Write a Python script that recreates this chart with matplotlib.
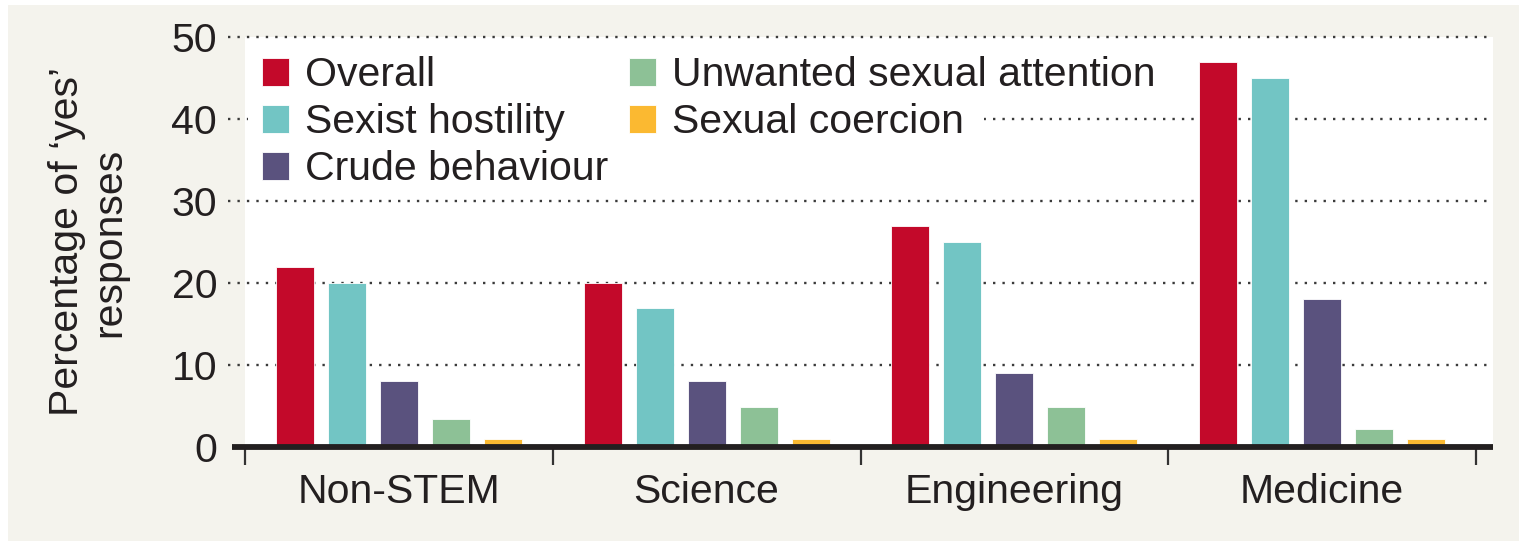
import matplotlib
matplotlib.use("Agg")
import matplotlib.pyplot as plt
import matplotlib.patches as mpatches
import numpy as np

categories = ["Non-STEM", "Science", "Engineering", "Medicine"]
series_names = ["Overall", "Sexist hostility", "Crude behaviour",
                "Unwanted sexual attention", "Sexual coercion"]
overall = [22, 20, 27, 47]
sexist_hostility = [20, 17, 25, 45]
crude_behaviour = [8, 8, 9, 18]
unwanted_attention = [3.4, 4.9, 4.9, 2.2]
sexual_coercion = [1, 1, 1, 1]
yticks = [0, 10, 20, 30, 40, 50]

series = [overall, sexist_hostility, crude_behaviour, unwanted_attention, sexual_coercion]
colors = ["#c3092a", "#72c5c4", "#5a527e", "#8dc196", "#fbb931"]

plt.rcParams['font.family'] = ['Liberation Sans', 'DejaVu Sans']
FS = 29.5
W, H = 1519, 541
fig = plt.figure(figsize=(W / 100, H / 100), dpi=100, facecolor="white")
bg = mpatches.Rectangle((8 / W, 0), 1 - 8 / W, 1 - 5 / H, transform=fig.transFigure,
                        facecolor="#f4f3ed", edgecolor="none", zorder=-10)
fig.patches.append(bg)

ax = fig.add_axes([245 / W, 94 / H, (1493 - 245) / W, (447 - 37) / H])
ax.set_facecolor("white")

x = np.arange(len(categories))
step = 0.169
width = 0.1235
for k, (vals, col, name) in enumerate(zip(series, colors, series_names)):
    ax.bar(x + (k - 2) * step, vals, width=width, color=col, label=name,
           zorder=2, edgecolor="white", linewidth=0.6)

ax.set_ylim(0, 50)
ax.set_xlim(-0.5, 3.5 + 17 / 307.75)

# dotted gridlines extending slightly left of the axes
for yv in yticks[1:]:
    ax.plot([-0.0136, 1], [yv, yv], transform=ax.get_yaxis_transform(),
            color="#3a3a3a", lw=1.7, linestyle=(0, (1, 3.0)),
            clip_on=False, zorder=1, dash_capstyle="butt")
# zero line
ax.plot([-0.0104, 1], [0, 0], transform=ax.get_yaxis_transform(),
        color="#231f20", lw=4.2, clip_on=False, zorder=3, solid_capstyle="butt")

for s in ax.spines.values():
    s.set_visible(False)

ax.set_yticks(yticks)
ax.set_yticklabels([str(v) for v in yticks])
ax.tick_params(axis="y", length=0, pad=20, labelsize=FS, labelcolor="#231f20")

ax.set_xticks(np.arange(-0.5, 4.0, 1.0))
ax.set_xticklabels([])
ax.tick_params(axis="x", which="major", length=13, width=1.6, color="#333333",
               direction="out")
ax.set_xticks(x, minor=True)
ax.set_xticklabels(categories, minor=True)
ax.tick_params(axis="x", which="minor", length=0, pad=19, labelsize=FS,
               labelcolor="#231f20")

fig.text(88 / W, 1 - 242 / H, "Percentage of \u2018yes\u2019\nresponses",
         rotation=90, ha="center", va="center", multialignment="center",
         fontsize=FS, color="#231f20", linespacing=1.12)

leg = ax.legend(ncol=2, loc="upper left", bbox_to_anchor=(0.004, 0.983),
                borderaxespad=0, frameon=False, fontsize=FS,
                handlelength=0.65, handleheight=0.65, handletextpad=0.4,
                columnspacing=0.5, labelspacing=0.22, borderpad=0.3)
leg.set_zorder(5)
for t in leg.get_texts():
    t.set_color("#231f20")

# white band behind the legend's middle row, ending just after the last entry
fig.canvas.draw()
r = fig.canvas.get_renderer()
lb = leg.get_window_extent(r)
tb = leg.get_texts()[4].get_window_extent(r)
hb = leg.get_texts()[1].get_window_extent(r)
y0 = min(tb.y0, hb.y0) - 4
y1 = max(tb.y1, hb.y1) + 4
x0 = lb.x0 - 2
x1 = tb.x1 + 20
inv = fig.transFigure.inverted()
(fx0, fy0), (fx1, fy1) = inv.transform([(x0, y0), (x1, y1)])
band = mpatches.Rectangle((fx0, fy0), fx1 - fx0, fy1 - fy0, transform=fig.transFigure,
                          facecolor="white", edgecolor="none", zorder=4)
ax.add_artist(band)

fig.savefig("out.png", dpi=100, facecolor=fig.get_facecolor())
